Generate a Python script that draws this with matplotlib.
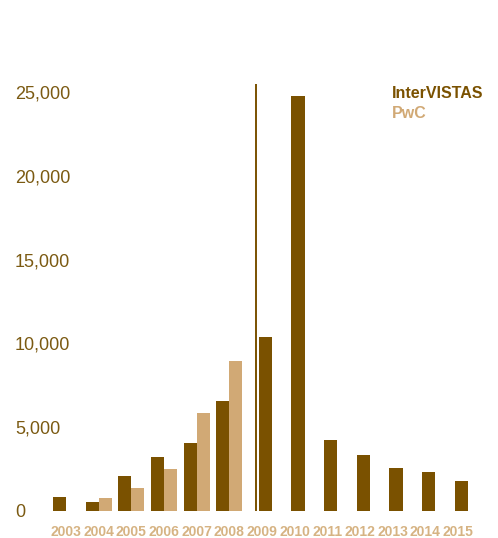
import matplotlib
matplotlib.use("Agg")
import matplotlib.pyplot as plt
import numpy as np
from matplotlib import font_manager

years = [2003, 2004, 2005, 2006, 2007, 2008, 2009, 2010, 2011, 2012, 2013, 2014, 2015]
intervistas = [850, 540, 2090, 3230, 4070, 6580, 10400, 24760, 4250, 3350, 2570, 2330, 1790]
pwc = [None, 780, 1375, 2510, 5860, 8970, None, None, None, None, None, None, None]
y_ticks = [0, 5000, 10000, 15000, 20000, 25000]

dark = "#7A5100"
tan = "#D1A975"
label_tan = "#D6B383"
axis_text = "#7B5A12"

names = {f.name for f in font_manager.fontManager.ttflist}
narrow = "Liberation Sans Narrow" if "Liberation Sans Narrow" in names else "Liberation Sans"

fig = plt.figure(figsize=(4.98, 5.38), dpi=100)
ax = fig.add_axes([0.0932, 0.0502, 0.866, 0.810])

width = 0.4
for yr, iv, pw in zip(years, intervistas, pwc):
    if pw is not None:
        ax.bar(yr - width / 2, iv, width, color=dark)
        ax.bar(yr + width / 2, pw, width, color=tan)
    elif yr < 2009:
        ax.bar(yr - width / 2, iv, width, color=dark)
    else:
        ax.bar(yr + 0.1, iv, width, color=dark)

# divider between the two data periods
ax.vlines(2008.8, 0, 25480, color=dark, lw=1.4)

ax.set_xlim(2002.4, 2015.6)
ax.set_ylim(0, 26000)
ax.set_xticks(years)
ax.set_xticklabels([str(y) for y in years], fontfamily=narrow, fontweight="bold",
                   fontsize=10, color=label_tan)
ax.set_yticks(y_ticks)
ax.set_yticklabels([f"{v:,}" for v in y_ticks], fontfamily=narrow, fontsize=13,
                   color=axis_text, ha="left")
ax.tick_params(axis="x", length=0, pad=10)
ax.tick_params(axis="y", length=0, pad=22.6)
for s in ax.spines.values():
    s.set_visible(False)

ax.text(0.801, 0.959, "InterVISTAS", transform=ax.transAxes, fontfamily=narrow,
        fontweight="bold", fontsize=11.5, color=dark, va="center", ha="left")
ax.text(0.801, 0.911, "PwC", transform=ax.transAxes, fontfamily=narrow,
        fontweight="bold", fontsize=11.5, color=tan, va="center", ha="left")

fig.savefig("out.png", dpi=100)
